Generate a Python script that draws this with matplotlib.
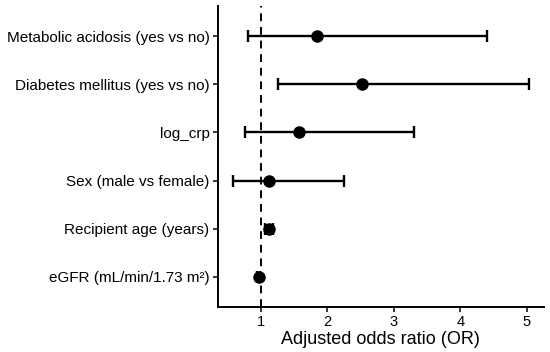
import matplotlib.pyplot as plt

plt.rcParams['font.family'] = ['Liberation Sans', 'DejaVu Sans']

# data (top to bottom)
labels = ["Metabolic acidosis (yes vs no)", "Diabetes mellitus (yes vs no)",
          "log_crp", "Sex (male vs female)", "Recipient age (years)",
          "eGFR (mL/min/1.73 m²)"]
odds = [1.84, 2.52, 1.57, 1.13, 1.12, 0.97]
lower = [0.80, 1.26, 0.76, 0.58, 1.06, 0.95]
upper = [4.41, 5.03, 3.30, 2.25, 1.19, 0.99]

ypos = list(range(len(labels), 0, -1))
err = [[o - l for o, l in zip(odds, lower)], [u - o for o, u in zip(odds, upper)]]

fig = plt.figure(figsize=(5.5, 3.52), dpi=100)
ax = fig.add_axes([0.396, 0.128, 0.593, 0.855])

ax.axvline(1, color='black', linestyle=(0, (4, 3)), linewidth=1.4, zorder=1)
ax.errorbar(odds, ypos, xerr=err, fmt='o', color='black', markersize=8,
            elinewidth=1.7, capsize=4, capthick=1.7, zorder=3)

ax.set_yticks(ypos)
ax.set_yticklabels(labels, fontsize=11)
ax.set_xticks([1, 2, 3, 4, 5])
ax.tick_params(axis='x', labelsize=10.5)
ax.set_xlim(0.353, 5.26)
ax.set_ylim(0.375, 6.625)
ax.set_xlabel("Adjusted odds ratio (OR)", fontsize=13, labelpad=1)

for s in ['top', 'right']:
    ax.spines[s].set_visible(False)
for s in ['left', 'bottom']:
    ax.spines[s].set_linewidth(1.4)
ax.tick_params(width=1.1, length=3.5, color='black', pad=2.5)

fig.savefig('out.png', dpi=100)
